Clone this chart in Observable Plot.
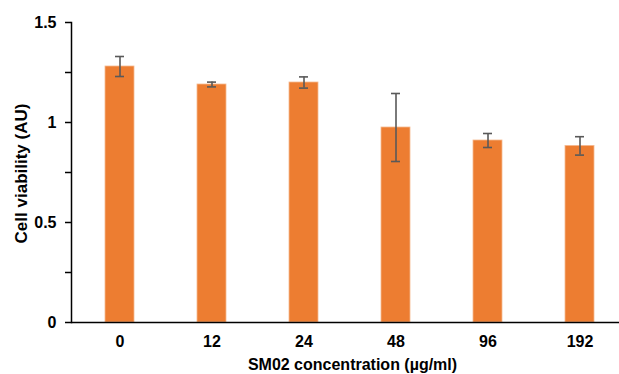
<!DOCTYPE html>
<html>
<head>
<meta charset="utf-8">
<script src="https://cdn.jsdelivr.net/npm/d3@7"></script>
<script src="https://cdn.jsdelivr.net/npm/@observablehq/plot@0.6"></script>
<style>
  html, body { margin: 0; padding: 0; background: #fff; }
  #chart { width: 619px; height: 374px; }
</style>
</head>
<body>
<div id="chart"></div>
<script>
const categories = ["0", "12", "24", "48", "96", "192"];
const means = [1.28, 1.19, 1.20, 0.975, 0.91, 0.883];
const errors = [0.05, 0.012, 0.028, 0.17, 0.035, 0.046];
const yTicks = [0, 0.25, 0.5, 0.75, 1, 1.25, 1.5];
const xTitle = "SM02 concentration (µg/ml)";
const yTitle = "Cell viability (AU)";

const data = categories.map((c, i) => ({conc: c, mean: means[i], lo: means[i] - errors[i], hi: means[i] + errors[i]}));

const fontFamily = "'Liberation Sans', Arial, sans-serif";

const chart = Plot.plot({
  width: 619,
  height: 374,
  marginLeft: 71,
  marginRight: 0,
  marginTop: 22,
  marginBottom: 52,
  style: {fontFamily, background: "#fff", color: "#000", overflow: "visible"},
  x: {type: "band", domain: categories, range: [71, 627], paddingInner: 0.69, paddingOuter: 0.345, align: 0.5},
  y: {domain: [0, 1.5]},
  marks: [
    Plot.barY(data, {x: "conc", y: "mean", fill: "#ED7D31", stroke: "#F6B990", strokeWidth: 0.8}),
    Plot.ruleX(data, {x: "conc", y1: "lo", y2: "hi", stroke: "#595959", strokeWidth: 1.6}),
    Plot.tickY(data, {x: "conc", y: "hi", stroke: "#595959", strokeWidth: 1.6, insetLeft: 10, insetRight: 10}),
    Plot.tickY(data, {x: "conc", y: "lo", stroke: "#595959", strokeWidth: 1.6, insetLeft: 10, insetRight: 10}),
    Plot.frame({anchor: "left", stroke: "#000", strokeWidth: 1.5}),
    Plot.ruleY([0], {stroke: "#000", strokeWidth: 1.5}),
    Plot.axisY({ticks: yTicks, tickSize: 6, tickPadding: 9, strokeWidth: 1.5,
      tickFormat: d => (d * 2) % 1 === 0 ? String(d) : "",
      fontSize: 16, fontWeight: "bold", fill: "#000", label: null}),
    Plot.axisX({tickSize: 0, tickPadding: 13, fontSize: 16, fontWeight: "bold", fill: "#000", label: null}),
    Plot.text([xTitle], {frameAnchor: "bottom", text: d => d, dx: 7, dy: 36, lineAnchor: "top",
      fontSize: 16, fontWeight: "bold", fill: "#000"}),
    Plot.text([yTitle], {frameAnchor: "left", text: d => d, rotate: -90, dx: -50, dy: 1, lineAnchor: "middle",
      textAnchor: "middle", fontSize: 17, fontWeight: "bold", fill: "#000"})
  ]
});
document.getElementById("chart").appendChild(chart);
</script>
</body>
</html>
